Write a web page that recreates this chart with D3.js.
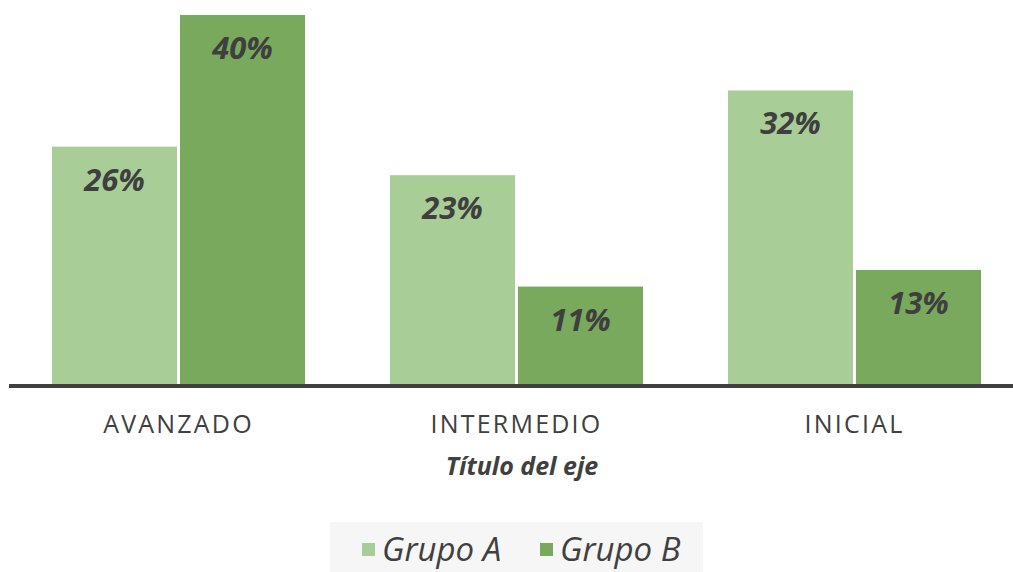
<!DOCTYPE html>
<html><head><meta charset="utf-8">
<script src="https://cdn.jsdelivr.net/npm/d3@7"></script>
<style>body{margin:0;background:#fff}svg{display:block}</style>
</head><body>
<svg id="c" width="1013" height="572"></svg>
<script>
const categories = ["AVANZADO", "INTERMEDIO", "INICIAL"];
const seriesNames = ["Grupo A", "Grupo B"];
const grupoA = [26, 22.9, 32.1];
const grupoB = [40.3, 10.8, 12.6];
const axisTitle = "Título del eje";
const colors = ["#a9cd97", "#79a95c"];

const svg = d3.select("#c");
const font = "'Open Sans', 'Noto Sans', sans-serif";
const baseY = 386;
const x0 = d3.scaleBand().domain(categories).range([9.5, 1023.5]).paddingInner(0).paddingOuter(0);
const x1 = d3.scaleBand().domain(seriesNames).range([0, x0.bandwidth()]).paddingInner(0.0234).paddingOuter(0.332);
const y = d3.scaleLinear().domain([0, 40.3]).range([baseY, 15]);

const data = categories.map((c, i) => ({cat: c, vals: [grupoA[i], grupoB[i]]}));
const fmt = v => d3.format(".0f")(v) + "%";

const g = svg.append("g");
data.forEach(d => {
  d.vals.forEach((v, j) => {
    const bx = x0(d.cat) + x1(seriesNames[j]);
    g.append("rect").attr("x", bx).attr("y", y(v)).attr("width", x1.bandwidth())
      .attr("height", baseY - y(v)).attr("fill", colors[j]);
    g.append("text").attr("x", bx + x1.bandwidth() / 2).attr("y", y(v) + 44)
      .attr("text-anchor", "middle").attr("font-family", font).attr("font-weight", "bold")
      .attr("font-style", "italic").attr("font-size", 31).attr("fill", "#3f3f3f").text(fmt(v));
  });
});

// axis
const axis = svg.append("g").attr("transform", `translate(0,${baseY})`)
  .call(d3.axisBottom(x0).tickSize(0).tickPadding(38));
axis.select(".domain").remove();
axis.append("line").attr("x1", 9).attr("x2", 1013).attr("y1", 0).attr("y2", 0)
  .attr("stroke", "#404040").attr("stroke-width", 4);
axis.selectAll(".tick text").attr("font-family", font).attr("font-size", 25)
  .attr("fill", "#404040").attr("letter-spacing", "2.2px").attr("dy", "0.35em");

svg.append("text").attr("x", 522).attr("y", 475).attr("text-anchor", "middle")
  .attr("font-family", font).attr("font-weight", "bold").attr("font-style", "italic")
  .attr("font-size", 25).attr("fill", "#404040").text(axisTitle);

// legend
const lg = svg.append("g");
lg.append("rect").attr("x", 330).attr("y", 522).attr("width", 373).attr("height", 50).attr("fill", "#f6f6f6");
const legX = [362, 540];
seriesNames.forEach((s, j) => {
  lg.append("rect").attr("x", legX[j]).attr("y", 543).attr("width", 13).attr("height", 13).attr("fill", colors[j]);
  lg.append("text").attr("x", legX[j] + 20).attr("y", 561).attr("font-family", font)
    .attr("font-style", "italic").attr("font-size", 33).attr("fill", "#404040").text(s);
});
</script>
</body></html>
